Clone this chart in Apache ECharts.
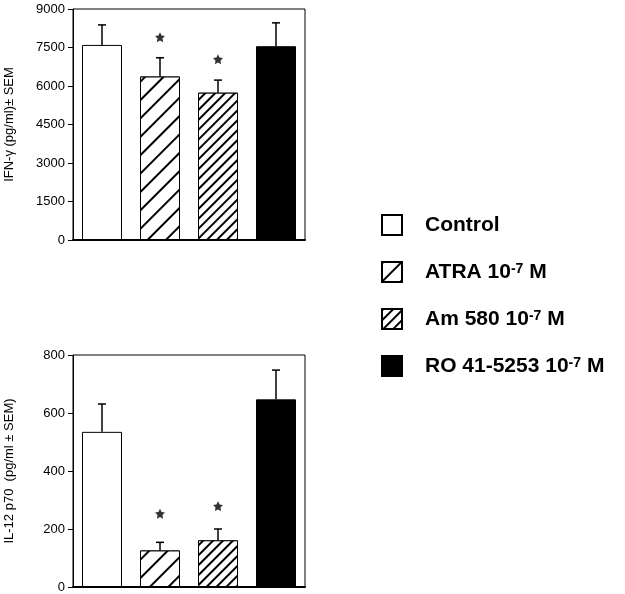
<!DOCTYPE html>
<html>
<head>
<meta charset="utf-8">
<script src="https://cdn.jsdelivr.net/npm/echarts@6/dist/echarts.min.js"></script>
<style>
  html, body { margin: 0; padding: 0; background: #fff; }
  #chart { width: 625px; height: 594px; }
</style>
</head>
<body>
<div id="chart"></div>
<script>
  // groups, in plotting order
  const categories = ['Control', 'ATRA 10-7 M', 'Am 580 10-7 M', 'RO 41-5253 10-7 M']

  // IFN-gamma (pg/ml), top panel
  const ifnMean = [7600, 6370, 5740, 7550]
  const ifnSem = [780, 730, 490, 910]
  const ifnStar = ['-', 7900, 7040, '-']
  const ifnTicks = [0, 1500, 3000, 4500, 6000, 7500, 9000]

  // IL-12 p70 (pg/ml), bottom panel
  const il12Mean = [535, 126, 161, 647]
  const il12Sem = [96, 28, 39, 101]
  const il12Star = ['-', 253, 279, '-']
  const il12Ticks = [0, 200, 400, 600, 800]

  const hatch = gap => ({
    symbol: 'rect',
    symbolSize: 1,
    dashArrayX: [1, 0],
    dashArrayY: [1.3, gap],
    rotation: -Math.PI / 4,
    color: '#000',
    backgroundColor: '#fff'
  })
  const styles = [
    {color: '#fff'},
    {color: '#fff', decal: hatch(11)},
    {color: '#fff', decal: hatch(5)},
    {color: '#000'}
  ]
  const starPath = 'path://M0,-10L2.9,-4L9.5,-3.1L4.7,1.5L5.9,8.1L0,5L-5.9,8.1L-4.7,1.5L-9.5,-3.1L-2.9,-4Z'

  function panelSeries(idx, mean, sem, star) {
    let out = categories.map((name, i) => ({
      name: name,
      type: 'bar',
      xAxisIndex: idx,
      yAxisIndex: idx,
      barWidth: 40,
      barGap: '-100%',
      itemStyle: Object.assign({borderColor: '#000', borderWidth: 1}, styles[i]),
      data: categories.map((c, j) => j === i ? mean[j] : '-')
    }))
    out.push({
      type: 'custom',
      xAxisIndex: idx,
      yAxisIndex: idx,
      z: 3,
      data: mean.map((m, i) => [i, m, m + sem[i]]),
      renderItem: (params, api) => {
        let a = api.coord([api.value(0), api.value(1)])
        let b = api.coord([api.value(0), api.value(2)])
        let st = {stroke: '#000', lineWidth: 1.5}
        return {
          type: 'group',
          children: [
            {type: 'line', shape: {x1: a[0], y1: a[1], x2: b[0], y2: b[1]}, style: st},
            {type: 'line', shape: {x1: b[0] - 4, y1: b[1], x2: b[0] + 4, y2: b[1]}, style: st}
          ]
        }
      }
    })
    out.push({
      type: 'scatter',
      xAxisIndex: idx,
      yAxisIndex: idx,
      symbol: starPath,
      symbolSize: 10,
      itemStyle: {color: '#000'},
      data: star.map((s, i) => [i, s])
    })
    return out
  }

  const yAxisBase = (ticks, name, gap) => ({
    type: 'value',
    min: ticks[0],
    max: ticks[ticks.length - 1],
    interval: ticks[1] - ticks[0],
    name: name,
    nameLocation: 'middle',
    nameGap: gap,
    nameTextStyle: {color: '#000', fontSize: 13, fontFamily: 'Liberation Sans'},
    axisLine: {show: true, lineStyle: {color: '#000', width: 1}},
    axisTick: {show: true, length: 5, lineStyle: {color: '#000'}},
    axisLabel: {color: '#000', fontSize: 13, margin: 8, fontFamily: 'Liberation Sans', formatter: v => String(v)},
    splitLine: {show: false}
  })

  const xAxisBase = idx => ({
    type: 'category',
    gridIndex: idx,
    data: categories,
    axisLine: {lineStyle: {color: '#000', width: 2}},
    axisTick: {show: false},
    axisLabel: {show: false}
  })

  let option = {
    backgroundColor: '#fff',
    animation: false,
    grid: [
      {left: 73, top: 9, width: 232, height: 231, show: true, borderColor: '#000', borderWidth: 1},
      {left: 73, top: 355, width: 232, height: 232, show: true, borderColor: '#000', borderWidth: 1}
    ],
    xAxis: [xAxisBase(0), xAxisBase(1)],
    yAxis: [
      Object.assign(yAxisBase(ifnTicks, 'IFN-γ (pg/ml)± SEM', 57), {gridIndex: 0}),
      Object.assign(yAxisBase(il12Ticks, 'IL-12 p70  (pg/ml ± SEM)', 57), {gridIndex: 1})
    ],
    legend: {
      orient: 'vertical',
      left: 376,
      top: 209,
      icon: 'rect',
      itemWidth: 20,
      itemHeight: 20,
      itemGap: 25,
      data: categories,
      itemStyle: {borderColor: '#000', borderWidth: 2},
      formatter: name => name.replace('10-7', '10{sup|-7}'),
      textStyle: {
        color: '#000',
        fontSize: 21,
        fontWeight: 'bold',
        fontFamily: 'Liberation Sans',
        lineHeight: 20,
        padding: [0, 0, 0, 18],
        rich: {
          sup: {fontSize: 14, fontWeight: 'bold', fontFamily: 'Liberation Sans', verticalAlign: 'top', lineHeight: 14, color: '#000'}
        }
      }
    },
    series: panelSeries(0, ifnMean, ifnSem, ifnStar).concat(panelSeries(1, il12Mean, il12Sem, il12Star))
  }

  let chart = echarts.init(document.getElementById('chart'))
  chart.setOption(option)
</script>
</body>
</html>
